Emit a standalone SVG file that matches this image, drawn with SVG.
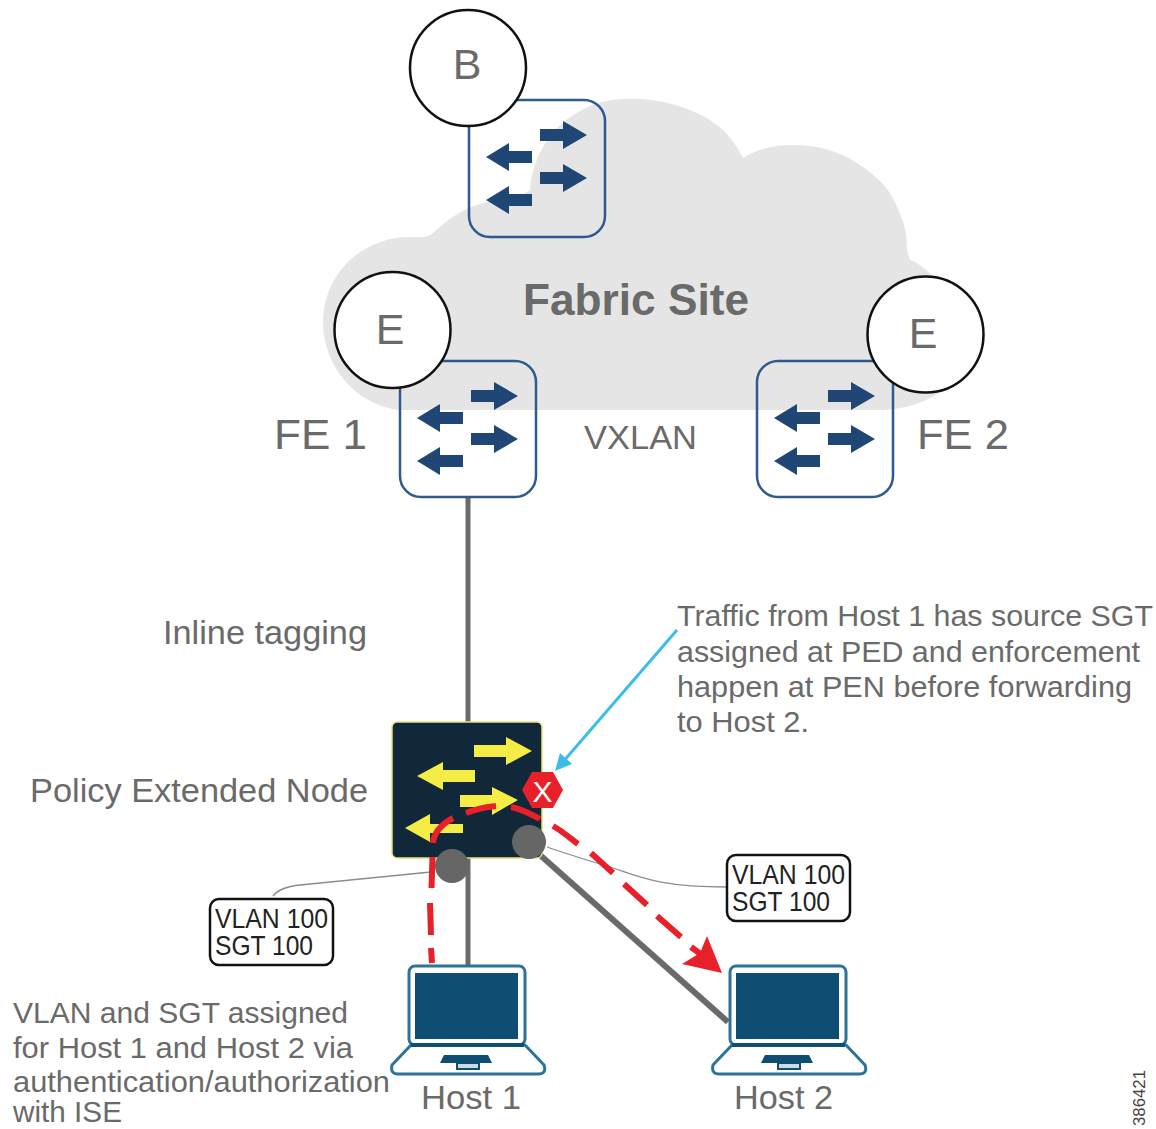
<svg xmlns="http://www.w3.org/2000/svg" xmlns:xlink="http://www.w3.org/1999/xlink" width="1156" height="1129" viewBox="0 0 1156 1129">
<style>
text{font-family:"Liberation Sans",Arial,sans-serif;fill:#6a6a6a}
.sw{fill:none;stroke:#2f5a8c;stroke-width:2.5}
.circ{fill:#fff;stroke:#111;stroke-width:2.5}
.big{font-size:43px}
.lab{font-size:34px}
.note{font-size:30px}
.tag{font-size:27px;fill:#222}
.tagbox{fill:#fff;stroke:#111;stroke-width:2.5}
.lap{fill:#fff;stroke:#2c7397;stroke-width:3;stroke-linejoin:round}
.dark{fill:#0d4e72}
.wire{stroke:#6a6a6a;fill:none}
.thin{stroke:#8c8c8c;stroke-width:1.3;fill:none}
</style>
<defs>
<g id="swArrows" fill="#1f4674">
<path d="M540 129H563V121L587 135L563 149V141H540Z"/>
<path d="M532 151H509V143L486 157L509 171V163H532Z"/>
<path d="M540 172H563V164L587 178L563 192V184H540Z"/>
<path d="M532 194H509V186L486 200L509 214V206H532Z"/>
</g>
<g id="laptop">
<path class="lap" d="M411 1045L392 1065Q390 1074 398 1074H538Q547 1074 544 1065L525 1045Z"/>
<rect class="lap" x="409" y="966" width="116" height="79" rx="6"/>
<rect class="dark" x="415" y="973" width="103" height="66"/>
<rect class="dark" x="411" y="1043" width="113" height="4"/>
<path class="dark" d="M444 1055H488L492 1063H440Z"/>
<path d="M457 1063V1069H479V1063Z" fill="#cfdbe2" stroke="#0d4e72" stroke-width="2"/>
</g>
</defs>

<g id="cloud">
<path fill="#e5e5e5" d="M323 320C325 270 365 237 410 237C420 237 428 238 433 233C452 215 468 207 483 203C503 198 522 197 530 190C531 172 537 158 543 147C555 125 575 112 595 104C630 92 690 100 723 130C732 139 738 148 743 158C760 148 775 145 793 145C820 145 840 152 857 163C880 178 892 192 897 207C904 222 907 232 907 250L910 260C920 264 927 270 933 277C960 300 985 335 960 375C940 400 905 410 880 410H400C355 405 322 365 323 320Z"/>
</g>

<g id="connectors">
<path class="wire" stroke-width="5" d="M468 497V722"/>
<path class="wire" stroke-width="5" d="M468 858V966"/>
<path class="wire" stroke-width="6" d="M540 855L728 1022"/>
<path class="thin" d="M431 872L300 885Q280 887 273 896"/>
<path class="thin" d="M547 847C570 855 590 861 613 868C640 877 660 887 727 887"/>
<path fill="none" stroke="#3cbde8" stroke-width="3" d="M677 630L562 763"/>
<path fill="#3cbde8" d="M555 771L560 753L572 764Z"/>
</g>

<g id="switch-b"><rect class="sw" x="469" y="100" width="136" height="137" rx="21"/><use href="#swArrows"/></g>
<g id="switch-fe1"><rect class="sw" x="400" y="361" width="136" height="136" rx="21"/><use href="#swArrows" x="-69" y="261"/></g>
<g id="switch-fe2"><rect class="sw" x="757" y="361" width="136" height="136" rx="21"/><use href="#swArrows" x="288" y="261"/></g>

<g id="badge-b"><circle class="circ" cx="468" cy="68" r="58"/><text class="big" x="467" y="79" text-anchor="middle">B</text></g>
<g id="badge-e1"><circle class="circ" cx="392.500" cy="330" r="58"/><text class="big" x="390" y="344" text-anchor="middle">E</text></g>
<g id="badge-e2"><circle class="circ" cx="925.500" cy="334.500" r="58"/><text class="big" x="923" y="348" text-anchor="middle">E</text></g>

<g id="labels">
<text x="523" y="315" font-size="44" font-weight="bold" textLength="226" lengthAdjust="spacingAndGlyphs">Fabric Site</text>
<text class="big" x="274" y="449" textLength="93" lengthAdjust="spacingAndGlyphs">FE 1</text>
<text class="big" x="917" y="449" textLength="92" lengthAdjust="spacingAndGlyphs">FE 2</text>
<text class="lab" x="584" y="449" textLength="113" lengthAdjust="spacingAndGlyphs">VXLAN</text>
<text class="lab" x="163" y="644" textLength="204" lengthAdjust="spacingAndGlyphs">Inline tagging</text>
<text class="lab" x="30" y="802" textLength="338" lengthAdjust="spacingAndGlyphs">Policy Extended Node</text>
<text class="note" x="677" y="626" textLength="476" lengthAdjust="spacingAndGlyphs">Traffic from Host 1 has source SGT</text>
<text class="note" x="677" y="662" textLength="463" lengthAdjust="spacingAndGlyphs">assigned at PED and enforcement</text>
<text class="note" x="677" y="697" textLength="455" lengthAdjust="spacingAndGlyphs">happen at PEN before forwarding</text>
<text class="note" x="677" y="732" textLength="132" lengthAdjust="spacingAndGlyphs">to Host 2.</text>
<text class="note" x="13" y="1023" textLength="335" lengthAdjust="spacingAndGlyphs">VLAN and SGT assigned</text>
<text class="note" x="13" y="1058" textLength="340" lengthAdjust="spacingAndGlyphs">for Host 1 and Host 2 via</text>
<text class="note" x="13" y="1092" textLength="377" lengthAdjust="spacingAndGlyphs">authentication/authorization</text>
<text class="note" x="13" y="1122" textLength="109" lengthAdjust="spacingAndGlyphs">with ISE</text>
<text x="1145" y="1126" font-size="16" transform="rotate(-90 1145 1126)" style="fill:#444" textLength="56" lengthAdjust="spacingAndGlyphs">386421</text>
</g>

<g id="policy-extended-node">
<rect x="392" y="722" width="150" height="136" rx="5" fill="#10283a" stroke="#e4e27a" stroke-width="1.5"/>
<g fill="#f5ec45">
<path d="M474 745H506V737L532 751L506 765V757H474Z"/>
<path d="M475 770H443V762L417 776L443 790V782H475Z"/>
<path d="M460 795H492V787L518 800L492 815V807H460Z"/>
<path d="M463 824H430V814L405 828L430 842V833H463Z"/>
</g>
</g>

<g id="host-1"><use href="#laptop"/><text class="lab" x="421" y="1109" textLength="100" lengthAdjust="spacingAndGlyphs">Host 1</text></g>
<g id="host-2"><use href="#laptop" x="321"/><text class="lab" x="734" y="1109" textLength="99" lengthAdjust="spacingAndGlyphs">Host 2</text></g>

<g id="ports">
<circle cx="452" cy="866" r="17" fill="#666"/>
<circle cx="529" cy="842" r="17" fill="#666"/>
</g>

<g id="tag-1"><rect class="tagbox" x="210" y="899" width="123" height="66" rx="9"/><text class="tag" x="215" y="928" textLength="113" lengthAdjust="spacingAndGlyphs">VLAN 100</text><text class="tag" x="215" y="955" textLength="98" lengthAdjust="spacingAndGlyphs">SGT 100</text></g>
<g id="tag-2"><rect class="tagbox" x="727" y="855" width="123" height="66" rx="9"/><text class="tag" x="732" y="884" textLength="113" lengthAdjust="spacingAndGlyphs">VLAN 100</text><text class="tag" x="732" y="911" textLength="98" lengthAdjust="spacingAndGlyphs">SGT 100</text></g>

<g id="enforcement">
<path d="M522 790L532 772H553L563 790L553 808H532Z" fill="#e8202a"/>
<text x="542.500" y="802" font-size="30" text-anchor="middle" style="fill:#fff">X</text>
</g>

<g id="path">
<path fill="none" stroke="#e8202a" stroke-width="6" d="M432 963L431 948M431 935L430 903M431.500 888L432.500 857M433 843C434 833 442 824 453 818M466 813C476 809 486 807 496 806M511 807C522 809 531 814 540 819M553 826C562 831 570 838 578 844M591 853L613 873M624 884L647 905M657 916L681 937M691 947L702 955"/>
<path fill="#e8202a" d="M722 973L707 936L700 953L682 964Z"/>
</g>
</svg>
